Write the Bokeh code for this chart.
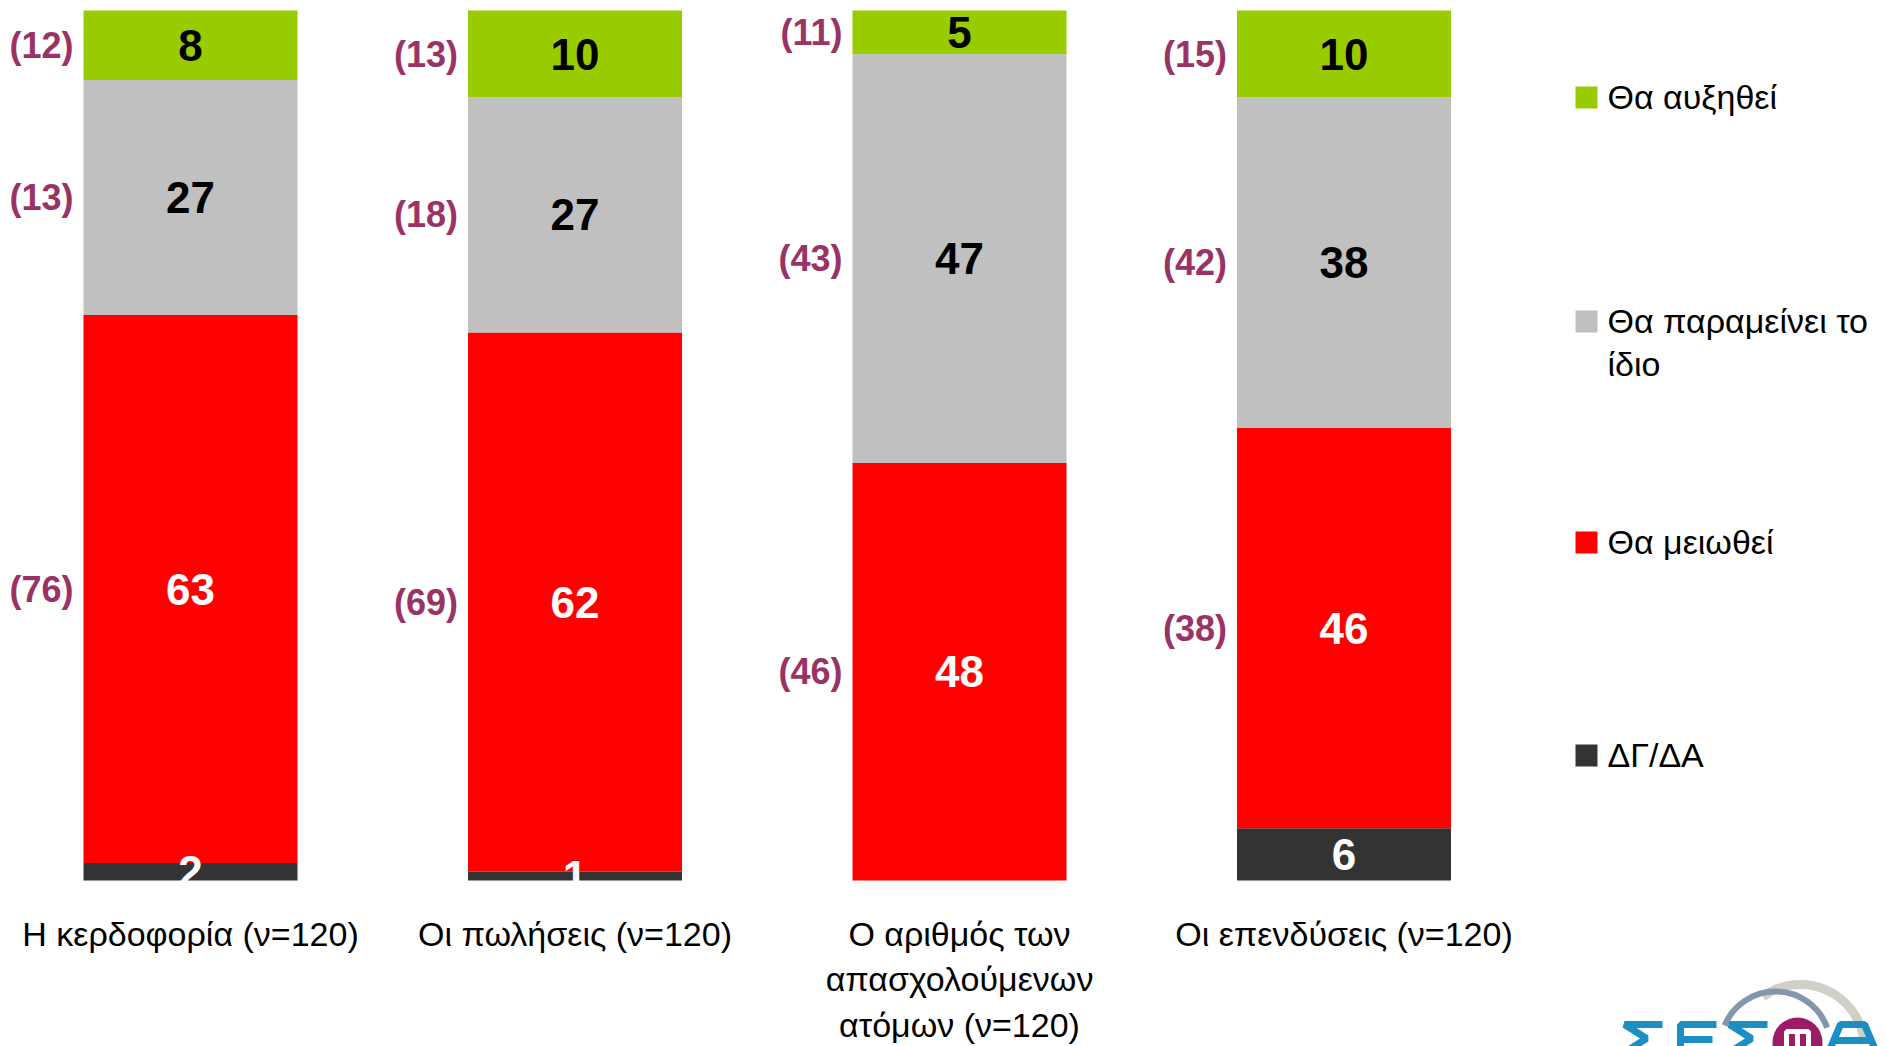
import numpy as np
from bokeh.plotting import figure
from bokeh.models import ColumnDataSource, Range1d
from bokeh.core.properties import value
from bokeh.embed import file_html
from bokeh.resources import INLINE

# ---------------- data ----------------
categories = ["Η κερδοφορία (ν=120)", "Οι πωλήσεις (ν=120)",
              "Ο αριθμός των\nαπασχολούμενων\nατόμων (ν=120)", "Οι επενδύσεις (ν=120)"]
series = ["ΔΓ/ΔΑ", "Θα μειωθεί", "Θα παραμείνει το ίδιο", "Θα αυξηθεί"]
dk_na = [2, 1, 0, 6]
decrease = [63, 62, 48, 46]
same = [27, 27, 47, 38]
increase = [8, 10, 5, 10]
# previous wave (in parentheses)
prev_decrease = [76, 69, 46, 38]
prev_same = [13, 18, 43, 42]
prev_increase = [12, 13, 11, 15]

colors = ["#333333", "#FF0000", "#C0C0C0", "#99CC00"]
label_colors = ["white", "white", "black", "black"]
legend_labels = ["Θα αυξηθεί", "Θα παραμείνει το\nίδιο", "Θα μειωθεί", "ΔΓ/ΔΑ"]
legend_colors = ["#99CC00", "#C0C0C0", "#FF0000", "#333333"]
PURPLE = "#993366"

# ---------------- layout helpers (pixel -> data) ----------------
W, H = 1886, 1046
PXU = 384.5          # px per category step
X0 = -190 / PXU      # data x at left edge
PYU = 8.7            # px per percent
YT = 100 + 10 / PYU  # data y at top edge


def dx(px):
    return X0 + px / PXU


def dy(py):
    return YT - py / PYU


BAR_W = 214 / PXU
NARROW = value("Liberation Sans Narrow, Liberation Sans, Arial Narrow, sans-serif")
REG = value("Liberation Sans, Arial, sans-serif")

p = figure(width=W, height=H, output_backend="svg", toolbar_location=None,
           x_range=Range1d(dx(0), dx(W)), y_range=Range1d(dy(H), dy(0)),
           min_border=0, outline_line_color=None, background_fill_color="white",
           border_fill_color="white")
p.xaxis.visible = False
p.yaxis.visible = False
p.grid.visible = False

xs = np.arange(len(categories), dtype=float)
stack_cols = ["dk", "dec", "same", "inc"]
src = ColumnDataSource(dict(x=xs, dk=dk_na, dec=decrease, same=same, inc=increase))
p.vbar_stack(stack_cols, x="x", width=BAR_W, color=colors, line_color=None, source=src)

# segment value labels
vals = np.array([dk_na, decrease, same, increase], dtype=float)
tops = np.cumsum(vals, axis=0)
bots = tops - vals
lx, ly, lt, lc = [], [], [], []
for s in range(vals.shape[0]):
    for i in range(vals.shape[1]):
        if vals[s, i] > 0:
            lx.append(xs[i])
            ly.append((tops[s, i] + bots[s, i]) / 2)
            lt.append(str(int(vals[s, i])))
            lc.append(label_colors[s])
p.text(x=lx, y=ly, text=lt, text_color=lc, text_font=NARROW, text_font_style="bold",
       text_font_size="44px", text_align="center", text_baseline="middle")

# previous-wave labels
prev = np.array([prev_decrease, prev_same, prev_increase], dtype=float)
px_, py_, pt_ = [], [], []
for k, s in enumerate([1, 2, 3]):
    for i in range(vals.shape[1]):
        px_.append(xs[i] - BAR_W / 2)
        py_.append((tops[s, i] + bots[s, i]) / 2)
        pt_.append("(%d)" % int(prev[k, i]))
p.text(x=px_, y=py_, text=pt_, text_color=PURPLE, text_font=NARROW, text_font_style="bold",
       text_font_size="36px", text_align="right", text_baseline="middle", x_offset=-10)

# category labels
p.text(x=xs, y=[dy(914)] * len(xs), text=categories, text_color="black", text_font=REG,
       text_font_size="34px", text_align="center", text_baseline="top", text_line_height=1.2)

# legend
leg_cy = [97, 321, 542, 755]
p.scatter(x=[dx(1586)] * 4, y=[dy(c) for c in leg_cy], marker="square", size=22,
          color=legend_colors, line_color=None)
p.text(x=[dx(1607)] * 4, y=[dy(c - 20) for c in leg_cy], text=legend_labels,
       text_color="black", text_font=REG, text_font_size="34px", text_align="left",
       text_baseline="top", text_line_height=1.14)

# logo (decorative, bottom right corner)
p.arc(x=[dx(1800)], y=[dy(1048)], radius=64, radius_units="screen", start_angle=0.1,
      end_angle=2.2, line_color="#d0d0c8", line_width=9)
p.arc(x=[dx(1775)], y=[dy(1046)], radius=55, radius_units="screen", start_angle=0.35,
      end_angle=2.75, line_color="#8595ab", line_width=6)
BLUE = "#1b8ec4"
logo_x = [[1662, 1624, 1646, 1624], [1716, 1680, 1680], [1682, 1712], [1767, 1729, 1751, 1729],
          [1828, 1840, 1864, 1876], [1834, 1870]]
logo_y = [[1024, 1024, 1038, 1052], [1024, 1024, 1052], [1039, 1039], [1024, 1024, 1038, 1052],
          [1052, 1024, 1024, 1052], [1040, 1040]]
p.multi_line(xs=[[dx(v) for v in l] for l in logo_x], ys=[[dy(v) for v in l] for l in logo_y],
             line_color=BLUE, line_width=7)
p.scatter(x=[dx(1797)], y=[dy(1042)], size=50, marker="circle", color="#9b1b66", line_color=None)
m_x = [[1786, 1786, 1808, 1808], [1797, 1797]]
m_y = [[1050, 1031, 1031, 1050], [1031, 1050]]
p.multi_line(xs=[[dx(v) for v in l] for l in m_x], ys=[[dy(v) for v in l] for l in m_y],
             line_color="white", line_width=5)

open("out.html", "w").write(file_html(p, INLINE))
